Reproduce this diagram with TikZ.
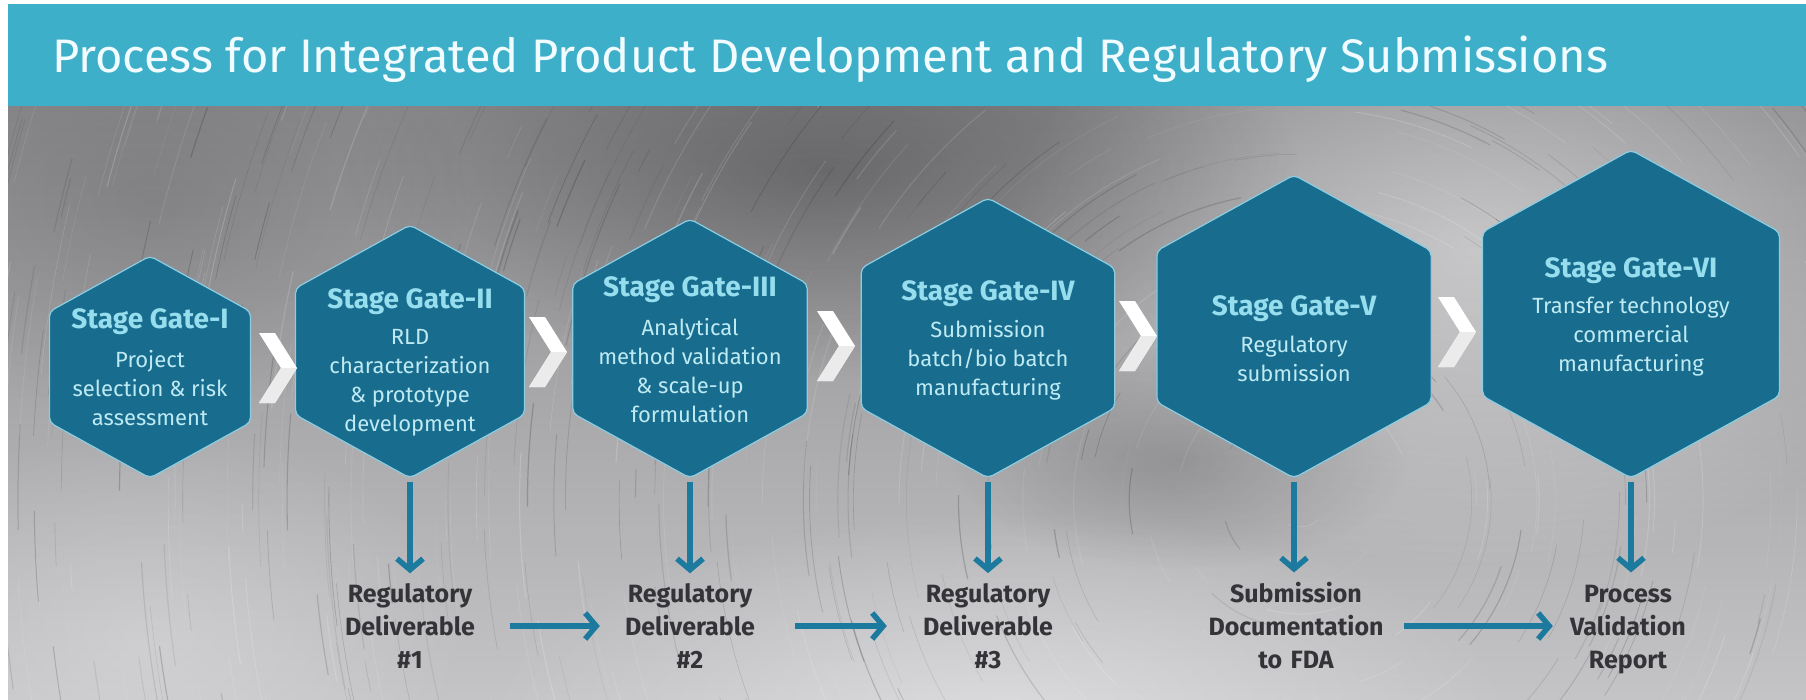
\documentclass[tikz,border=0pt]{standalone}
\usepackage{fontspec}
\setmainfont{Fira Sans}
\usetikzlibrary{arrows.meta,shapes.geometric,fadings}

\definecolor{band}{RGB}{62,175,201}
\definecolor{titlewhite}{RGB}{240,252,255}
\definecolor{metaltop}{RGB}{140,140,143}
\definecolor{metalbot}{RGB}{196,196,199}
\definecolor{hexfill}{RGB}{24,108,142}
\definecolor{hexedge}{RGB}{140,205,225}
\definecolor{hextext}{RGB}{190,234,243}
\definecolor{hexhead}{RGB}{150,222,238}
\definecolor{flowcol}{RGB}{28,122,158}
\definecolor{deltext}{RGB}{52,52,56}

\tikzfading[name=softdot, inner color=transparent!0, outer color=transparent!100]

\tikzset{
  gatehex/.style={regular polygon, regular polygon sides=6, shape border rotate=30,
    fill=hexfill, draw=hexedge, line width=1.2pt, inner sep=0pt, outer sep=0pt,
    rounded corners=5pt, minimum size=#1, xscale=1.045, transform shape},
  gatehead/.style={font=\fontsize{28}{32}\selectfont\bfseries, text=hexhead, inner sep=0pt},
  gatebody/.style={font=\fontsize{22}{29}\selectfont, text=hextext, align=center, inner sep=0pt},
  deliv/.style={font=\fontsize{25}{33}\selectfont\bfseries, text=deltext, align=center,
    inner sep=0pt, text width=#1},
  flowarrow/.style={draw=flowcol, line width=5.5pt, -{Straight Barb[length=11pt, width=26pt]}},
  chevron/.pic={
    \fill[white] (-19,-35) -- (-3,-35) -- (19,0) -- (-3,35) -- (-19,35) -- (3,0) -- cycle;
    \fill[black!8] (19,0) -- (-3,35) -- (-19,35) -- (3,0) -- cycle;
  }
}

\begin{document}
\begin{tikzpicture}[x=1pt,y=-1pt]
\useasboundingbox (0,0) rectangle (1806,699);
\fill[white] (0,0) rectangle (1806,699);

% title band
\fill[band] (8,4) rectangle (1806,106);
\node[anchor=base west, inner sep=0pt, text=titlewhite, font=\fontsize{47}{52}\selectfont]
  (title) at (52,72) {Process for Integrated Product Development and Regulatory Submissions};

% brushed metal backdrop
\begin{scope}
  \clip (8,106) rectangle (1806,699);
  \shade[top color=metaltop, bottom color=metalbot] (8,106) rectangle (1806,699);
  \fill[white, opacity=0.45, path fading=softdot] (1480,250) ellipse (480 and 320);
  \fill[black, opacity=0.28, path fading=softdot] (820,170) ellipse (480 and 210);
  \fill[black, opacity=0.16, path fading=softdot] (1180,460) ellipse (230 and 110);
  \fill[white, opacity=0.40, path fading=softdot] (1000,720) ellipse (520 and 210);
  \fill[white, opacity=0.25, path fading=softdot] (150,640) ellipse (320 and 220);
  \fill[black, opacity=0.12, path fading=softdot] (150,200) ellipse (320 and 220);
  \pgfmathsetseed{7}
  \foreach \i in {1,...,3000}{
    \pgfmathsetmacro{\rad}{15+1550*sqrt(rnd)}
    \pgfmathsetmacro{\ang}{360*rnd}
    \pgfmathsetmacro{\spn}{min(70,(25+150*rnd)/\rad*57.3)}
    \pgfmathsetmacro{\opa}{0.06+0.12*rnd}
    \pgfmathsetmacro{\lw}{0.4+0.9*rnd}
    \pgfmathtruncatemacro{\lite}{rnd<0.55 ? 1 : 0}
    \ifnum\lite=1 \def\brush{white}\else\def\brush{black}\fi
    \draw[\brush, opacity=\opa, line width=\lw]
      (1300,500) ++(\ang:\rad) arc[start angle=\ang, end angle=\ang+\spn, radius=\rad];
  }
\end{scope}

% stage gates
\begin{scope}[shift={(150,367)}]\node[gatehex=222] (g1) at (0,0) {};\end{scope}
\begin{scope}[shift={(410,351.5)}]\node[gatehex=253] (g2) at (0,0) {};\end{scope}
\begin{scope}[shift={(690,348.5)}]\node[gatehex=259] (g3) at (0,0) {};\end{scope}
\begin{scope}[shift={(988,338)}]\node[gatehex=280] (g4) at (0,0) {};\end{scope}
\begin{scope}[shift={(1294,326.5)}]\node[gatehex=303] (g5) at (0,0) {};\end{scope}
\begin{scope}[shift={(1631,314)}]\node[gatehex=328] (g6) at (0,0) {};\end{scope}

\node[gatehead] (g1h) at (150,322) {Stage Gate-I};
\node[gatebody] (g1b) at (150,388) {Project\\selection \& risk\\assessment};
\node[gatehead] (g2h) at (410,302) {Stage Gate-II};
\node[gatebody] (g2b) at (410,382.5) {RLD\\characterization\\\& prototype\\development};
\node[gatehead] (g3h) at (690,290) {Stage Gate-III};
\node[gatebody] (g3b) at (690,370.5) {Analytical\\method validation\\\& scale-up\\formulation};
\node[gatehead] (g4h) at (988,294) {Stage Gate-IV};
\node[gatebody] (g4b) at (988,360) {Submission\\batch/bio batch\\manufacturing};
\node[gatehead] (g5h) at (1294,309) {Stage Gate-V};
\node[gatebody] (g5b) at (1294,359) {Regulatory\\submission};
\node[gatehead] (g6h) at (1631,271) {Stage Gate-VI};
\node[gatebody] (g6b) at (1631,337) {Transfer technology\\commercial\\manufacturing};

% chevrons between gates
\pic at (278,368)  {chevron};
\pic at (548,352)  {chevron};
\pic at (836,346)  {chevron};
\pic at (1138,336) {chevron};
\pic at (1457,332) {chevron};

% deliverables
\node[deliv=180] (d1) at (410,626)  {Regulatory\\Deliverable\\\#1};
\node[deliv=180] (d2) at (690,626)  {Regulatory\\Deliverable\\\#2};
\node[deliv=180] (d3) at (988,626)  {Regulatory\\Deliverable\\\#3};
\node[deliv=180] (d4) at (1296,626) {Submission\\Documentation\\to FDA};
\node[deliv=150] (d5) at (1628,630) {Process\\Validation\\Report};

% gate outputs
\draw[flowarrow, shorten <=4pt, shorten >=10pt] (g2.south) -- (g2.south |- d1.north);
\draw[flowarrow, shorten <=4pt, shorten >=10pt] (g3.south) -- (g3.south |- d2.north);
\draw[flowarrow, shorten <=4pt, shorten >=10pt] (g4.south) -- (g4.south |- d3.north);
\draw[flowarrow, shorten <=4pt, shorten >=10pt] (g5.south) -- (g5.south |- d4.north);
\draw[flowarrow, shorten <=4pt, shorten >=10pt] (g6.south) -- (g6.south |- d4.north);

% deliverable sequence
\draw[flowarrow, shorten <=10pt, shorten >=0pt]  (d1.east) -- (d2.west);
\draw[flowarrow, shorten <=15pt, shorten >=11pt] (d2.east) -- (d3.west);
\draw[flowarrow, shorten <=18pt, shorten >=0pt]  (d4.east) -- (d4.east -| d5.west);
\end{tikzpicture}
\end{document}
